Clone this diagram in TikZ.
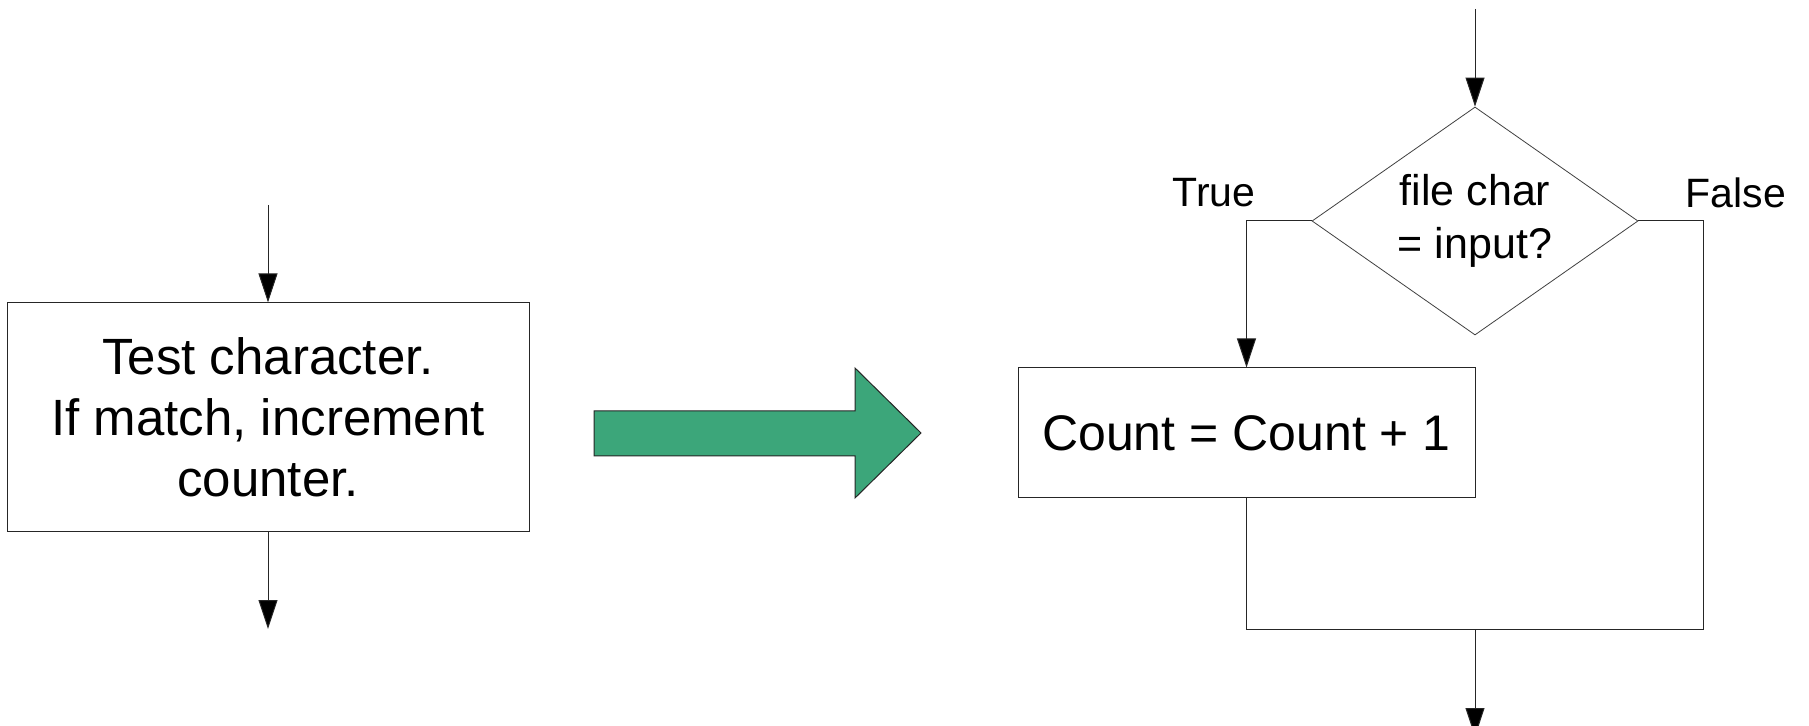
\documentclass[tikz,border=0pt]{standalone}
\usepackage{fontspec}
\setmainfont{Liberation Sans}
\usetikzlibrary{arrows.meta}
\usetikzlibrary{shapes.geometric}

\begin{document}
\begin{tikzpicture}[x=0.5pt,y=0.5pt,yscale=-1,xscale=1,
  flowline/.style={draw=black!85,line width=0.5pt},
  flowarrow/.style={flowline,-{Triangle[length=14.5pt,width=9.5pt,fill=black]}},
  flowbox/.style={flowline,rectangle,inner sep=0pt,align=center},
  decision/.style={draw=black!75,line width=0.4pt,diamond,aspect=1.43,inner sep=0pt,align=center,minimum width=163pt,minimum height=114pt,font=\fontsize{21.5pt}{26.5pt}\selectfont},
  edgelabel/.style={inner sep=0pt,font=\fontsize{20.5pt}{24pt}\selectfont}]
%set diagram to 1809 x 726
\clip (0,0) rectangle (1809,726);

%Shape: Rectangle [old step]
\node [flowbox,minimum width=261pt,minimum height=114.5pt,font=\fontsize{25.5pt}{30.5pt}\selectfont] (test) at (268,417.5) {Test character.\\If match, increment\\counter.};
\coordinate (testin) at (268,205);
\coordinate (testout) at (268,629);
%Straight Lines
\draw [flowarrow] (testin) -- (test.north);
\draw [flowarrow] (test.south) -- (testout);

%Shape: Right Arrow
\draw [flowline,fill={rgb, 255:red, 60; green, 166; blue, 122 }] (594,411) -- (855,411) -- (855,368) -- (921,433) -- (855,498) -- (855,456) -- (594,456) -- cycle ;

%Shape: Diamond [test]
\node [decision] (dec) at (1475,221) {file char\\= input?};
%Shape: Rectangle [count]
\node [flowbox,minimum width=228.5pt,minimum height=65pt,font=\fontsize{25pt}{30pt}\selectfont] (count) at (1246.5,433) {Count = Count + 1};

\coordinate (decin) at (1475,9);
\coordinate (loopright) at (1703,629);
\coordinate (join) at (1475,629);
\coordinate (decout) at (1475,737);
%Straight Lines
\draw [flowarrow] (decin) -- (dec.north);
\draw [flowarrow] (dec.west) -| (count.north);
\draw [flowline] (dec.east) -| (loopright) -- (count.south |- loopright) -- (count.south);
\draw [flowarrow] (join) -- (decout);

% Text Node
\node [edgelabel] (truelbl) at (1214,192.5) {True};
\node [edgelabel] (falselbl) at (1736,192.5) {False};

\end{tikzpicture}
\end{document}
